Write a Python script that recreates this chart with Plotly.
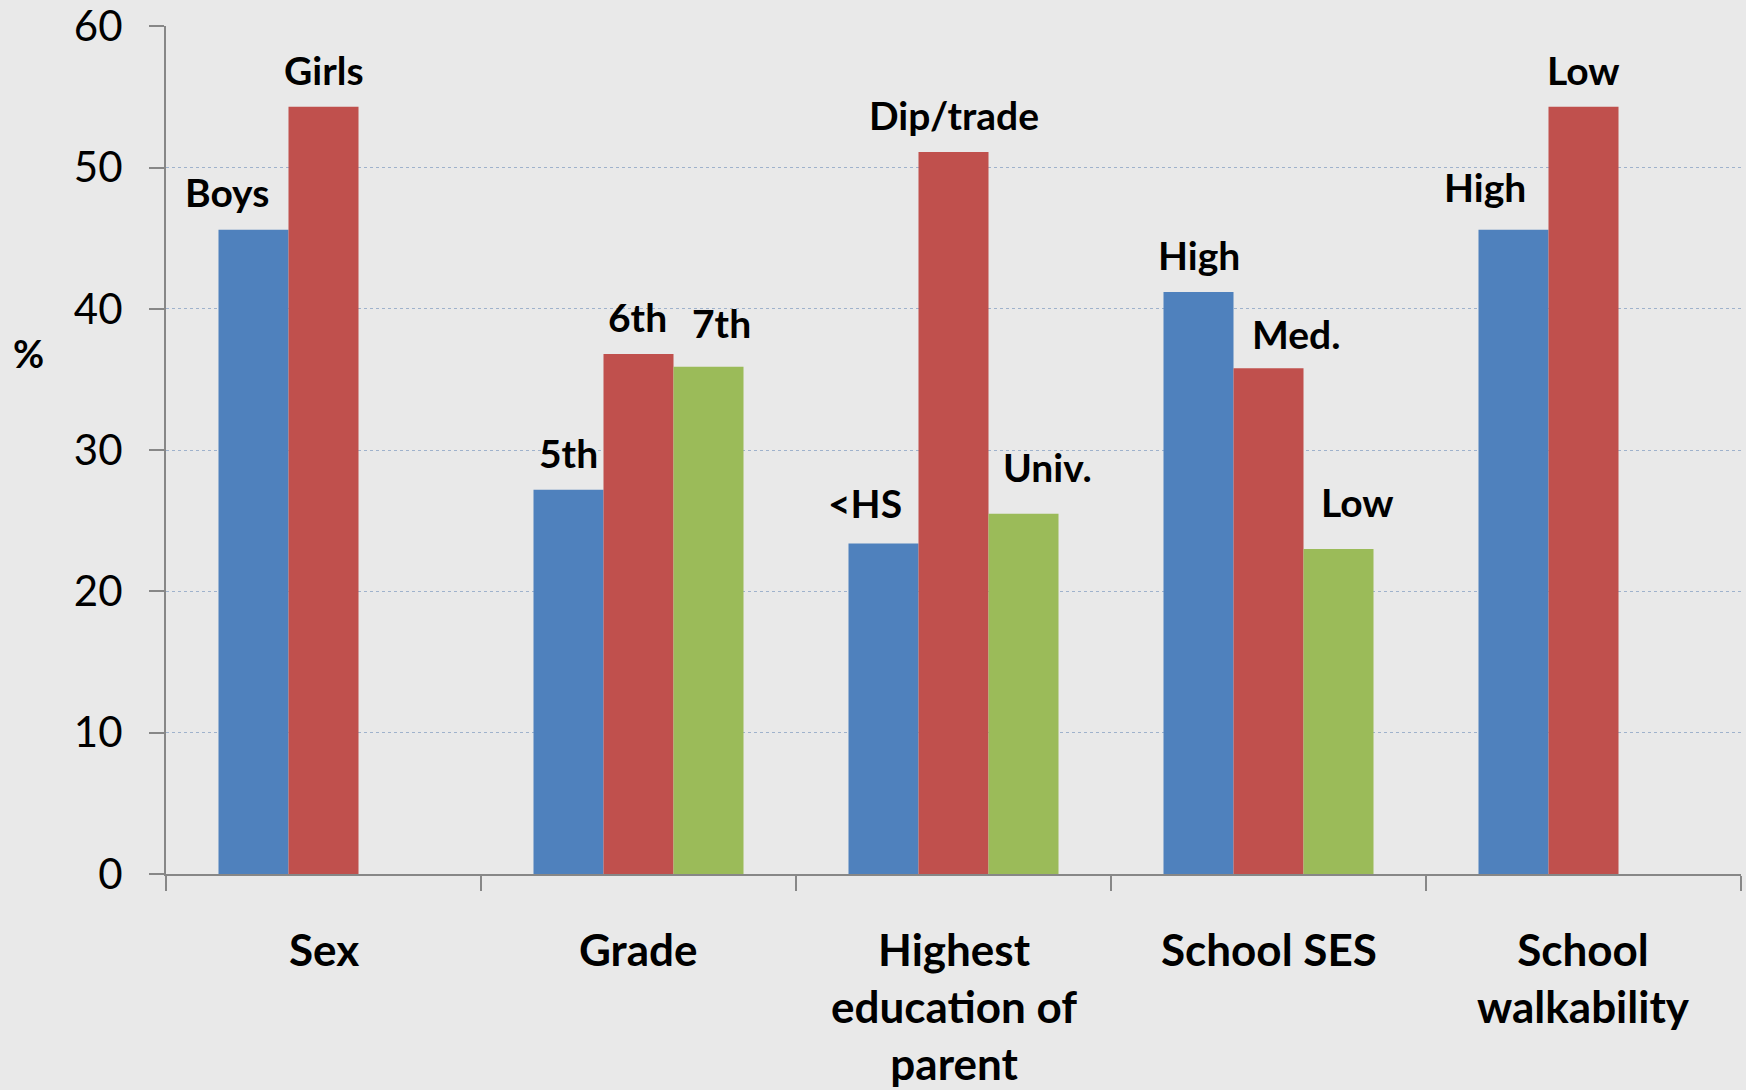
import plotly.graph_objects as go

# ---------------- data ----------------
categories = ["Sex", "Grade", "Highest<br>education of<br>parent", "School SES", "School<br>walkability"]
series1_values = [45.6, 27.2, 23.4, 41.2, 45.6]          # blue
series2_values = [54.3, 36.8, 51.1, 35.8, 54.3]          # red
series3_values = [None, 35.9, 25.5, 23.0, None]          # green
series1_labels = ["Boys", "5th", "&lt;HS", "High", "High"]
series2_labels = ["Girls", "6th", "Dip/trade", "Med.", "Low"]
series3_labels = [None, "7th", "Univ.", "Low", None]
y_ticks = [0, 10, 20, 30, 40, 50, 60]

# ---------------- style ----------------
W, H = 1746, 1090
ML, MR, MT, MB = 166, 5, 26, 216
BARGAP = 1 / 3
colors = ["#4F81BD", "#C0504D", "#9BBB59"]
bg = "#e9e9e9"
FONT = "Lato"

# label offsets (px) relative to bar centre/top: (dx, dy)
label_offsets = [
    [(-27, 38), (0, 37), (-19, 40), (0, 37), (-29, 43)],
    [(0, 37), (-1, 37), (0, 37), (27, 34), (0, 37)],
    [None, (13, 44), (24, 47), (19, 47), None],
]

fig = go.Figure()
all_vals = [series1_values, series2_values, series3_values]
all_labels = [series1_labels, series2_labels, series3_labels]
for vals, col in zip(all_vals, colors):
    fig.add_trace(go.Bar(x=categories, y=vals, marker=dict(color=col, line=dict(width=0)),
                         showlegend=False))

plot_w = W - ML - MR
plot_h = H - MT - MB
cat_w = plot_w / len(categories)
bar_w = cat_w * (1 - BARGAP) / 3
annotations = []
for s, (vals, labs) in enumerate(zip(all_vals, all_labels)):
    for i, (v, lab) in enumerate(zip(vals, labs)):
        if v is None or lab is None:
            continue
        dx, dy = label_offsets[s][i]
        annotations.append(dict(
            x=categories[i], y=v, xref="x", yref="y", text="<b>%s</b>" % lab,
            showarrow=False, xanchor="center", yanchor="middle",
            xshift=(s - 1) * bar_w + dx, yshift=dy,
            font=dict(family=FONT, size=39, color="black")))

# category labels below the axis
for c in categories:
    annotations.append(dict(
        x=c, y=0, xref="x", yref="paper", text="<b>%s</b>" % c,
        showarrow=False, xanchor="center", yanchor="top", yshift=-47,
        font=dict(family=FONT, size=44, color="black")))

# y-axis title "%"
annotations.append(dict(x=(28 - ML) / plot_w, y=1 - (353 - MT) / plot_h,
                        xref="paper", yref="paper", text="<b>%</b>",
                        showarrow=False, xanchor="center", yanchor="middle",
                        font=dict(family=FONT, size=38, color="black")))

fig.update_layout(
    width=W, height=H,
    margin=dict(l=ML, r=MR, t=MT, b=MB, pad=0, autoexpand=False),
    paper_bgcolor=bg, plot_bgcolor=bg,
    barmode="group", bargap=BARGAP, bargroupgap=0,
    annotations=annotations,
    xaxis=dict(
        type="category", showline=True, linecolor="#878787", linewidth=2,
        ticks="outside", tickson="boundaries", ticklen=15, tickwidth=2, tickcolor="#878787",
        showticklabels=False, showgrid=False, zeroline=False, automargin=False,
    ),
    yaxis=dict(
        range=[0, 60.02], tickvals=y_ticks, ticktext=[str(t) for t in y_ticks],
        showline=True, linecolor="#878787", linewidth=2,
        ticks="outside", ticklen=15, tickwidth=2, tickcolor="#878787",
        tickfont=dict(family=FONT, size=42, color="black"),
        ticklabelstandoff=18, ticklabeloverflow="allow", automargin=False,
        showgrid=True, gridcolor="#9fb2cc", gridwidth=1, griddash="dot",
        zeroline=False,
    ),
)

fig.write_html("out.html")
